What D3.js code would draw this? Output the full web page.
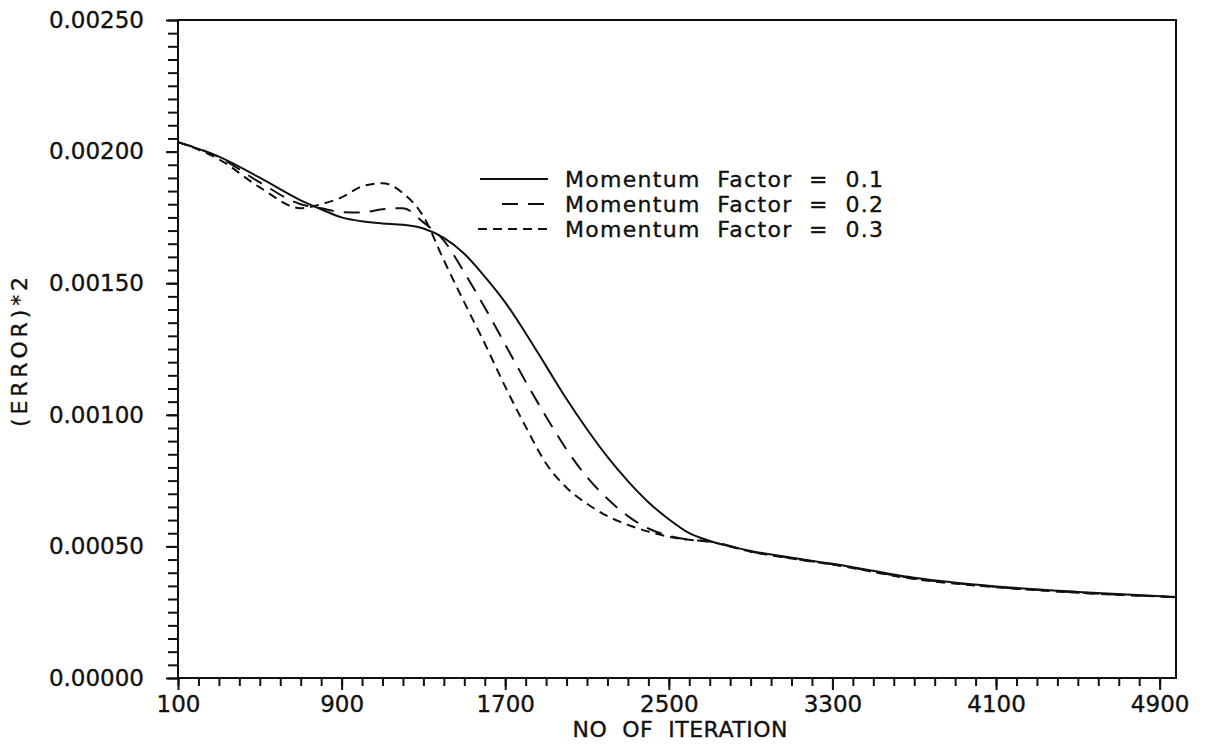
<!DOCTYPE html>
<html>
<head>
<meta charset="utf-8">
<script src="https://cdn.jsdelivr.net/npm/d3@7"></script>
<style>
  body { margin: 0; background: #fff; }
  svg { display: block; }
  text { font-family: "DejaVu Sans", sans-serif; fill: #111; stroke: #111; stroke-width: 0.35px; }
</style>
</head>
<body>
<svg width="1210" height="748"></svg>
<script>
const iterations = [100, 300, 500, 700, 800, 900, 1000, 1100, 1200, 1300, 1400, 1500, 1600, 1700, 1800, 1900, 2000,
                    2100, 2200, 2300, 2400, 2500, 2600, 2700, 2900, 3100, 3300, 3700, 4100, 4500, 4980];

// momentum factor 0.1 (solid)
const mf1 = [0.002036, 0.001981, 0.001901, 0.001815, 0.001781, 0.001750, 0.001735, 0.001727, 0.001722, 0.001708, 0.001672,
             0.001612, 0.001525, 0.001427, 0.001310, 0.001185, 0.001060, 0.000945, 0.000840, 0.000748, 0.000668,
             0.000603, 0.000550, 0.000521, 0.000483, 0.000457, 0.000434, 0.000381, 0.000348, 0.000327, 0.000308];
// momentum factor 0.2 (long dash)
const mf2 = [0.002036, 0.001979, 0.001883, 0.001800, 0.001785, 0.001770, 0.001769, 0.001781, 0.001785, 0.001731, 0.001662,
             0.001541, 0.001408, 0.001267, 0.001126, 0.000993, 0.000868, 0.000763, 0.000681, 0.000615, 0.000568,
             0.000540, 0.000525, 0.000519, 0.000481, 0.000455, 0.000432, 0.000378, 0.000346, 0.000325, 0.000307];
// momentum factor 0.3 (short dash)
const mf3 = [0.002036, 0.001971, 0.001864, 0.001785, 0.001800, 0.001826, 0.001868, 0.001880, 0.001842, 0.001754, 0.001587,
             0.001427, 0.001271, 0.001107, 0.000955, 0.000815, 0.000723, 0.000662, 0.000615, 0.000582, 0.000556,
             0.000537, 0.000525, 0.000517, 0.000480, 0.000454, 0.000431, 0.000376, 0.000345, 0.000324, 0.000307];

const xMajor = [100, 900, 1700, 2500, 3300, 4100, 4900];
const yMajor = [0, 0.0005, 0.001, 0.0015, 0.002, 0.0025];
const legendLabels = ["Momentum  Factor  =  0.1", "Momentum  Factor  =  0.2", "Momentum  Factor  =  0.3"];

const plotLeft = 178, plotRight = 1176, plotTop = 20, plotBottom = 678;

let svg = d3.select("svg");

let x = d3.scaleLinear().domain([100, 4980]).range([plotLeft, plotRight]);
let y = d3.scaleLinear().domain([0, 0.0025]).range([plotBottom, plotTop]);

const xMinor = d3.range(100, 4980, 100),
      yMinor = d3.range(0, 51).map(i => i * 0.00005);

// frame
svg.append("rect")
    .attr("x", plotLeft).attr("y", plotTop)
    .attr("width", plotRight - plotLeft).attr("height", plotBottom - plotTop)
    .attr("fill", "none").attr("stroke", "#111").attr("stroke-width", 2);

const styleAxis = (g) => {
  g.select(".domain").remove();
  g.selectAll(".tick line").attr("stroke", "#111").attr("stroke-width", 2);
};

// x minor + major ticks
svg.append("g")
    .attr("transform", `translate(0,${plotBottom})`)
    .call(d3.axisBottom(x).tickValues(xMinor).tickSize(8).tickFormat(""))
    .call(styleAxis);

svg.append("g")
    .attr("transform", `translate(0,${plotBottom})`)
    .call(d3.axisBottom(x).tickValues(xMajor).tickSize(12).tickPadding(6).tickFormat(d3.format("d")))
    .call(styleAxis)
    .call(g => g.selectAll(".tick text").attr("font-size", 23).attr("fill", "#111")
                .attr("font-family", "DejaVu Sans"));

// y minor + major ticks
svg.append("g")
    .attr("transform", `translate(${plotLeft},0)`)
    .call(d3.axisLeft(y).tickValues(yMinor).tickSize(10).tickFormat(""))
    .call(styleAxis);

svg.append("g")
    .attr("transform", `translate(${plotLeft},0)`)
    .call(d3.axisLeft(y).tickValues(yMajor).tickSize(12).tickPadding(22).tickFormat(d3.format(".5f")))
    .call(styleAxis)
    .call(g => g.selectAll(".tick text").attr("font-size", 23).attr("fill", "#111")
                .attr("font-family", "DejaVu Sans"));

// axis titles
svg.append("text")
    .attr("x", 680).attr("y", 737)
    .attr("text-anchor", "middle")
    .attr("font-size", 22)
    .attr("textLength", 215).attr("lengthAdjust", "spacing")
    .style("white-space", "pre")
    .text("NO  OF  ITERATION");

svg.append("text")
    .attr("transform", "translate(27,352) rotate(-90)")
    .attr("text-anchor", "middle")
    .attr("font-size", 22)
    .attr("textLength", 150).attr("lengthAdjust", "spacing")
    .text("(ERROR)*2");

// curves
const series = [
  { values: mf1, dash: null },
  { values: mf2, dash: "16,10" },
  { values: mf3, dash: "9,6" }
];

const line = d3.line()
    .x(d => x(d[0]))
    .y(d => y(d[1]))
    .curve(d3.curveMonotoneX);

series.forEach(s => {
  svg.append("path")
      .datum(iterations.map((it, i) => [it, s.values[i]]))
      .attr("d", line)
      .attr("fill", "none")
      .attr("stroke", "#111")
      .attr("stroke-width", 2)
      .attr("stroke-dasharray", s.dash);
});

// legend
let legend = svg.append("g");
const legendLines = [[480, 548], [502, 548], [478, 548]];

legendLabels.forEach((label, i) => {
  let yy = 179 + i * 25;
  legend.append("line")
      .attr("x1", legendLines[i][0]).attr("x2", legendLines[i][1])
      .attr("y1", yy).attr("y2", yy)
      .attr("stroke", "#111").attr("stroke-width", 2)
      .attr("stroke-dasharray", series[i].dash);
  legend.append("text")
      .attr("x", 565).attr("y", yy + 8)
      .attr("font-size", 22)
      .attr("textLength", 318).attr("lengthAdjust", "spacing")
      .style("white-space", "pre")
      .text(label);
});
</script>
</body>
</html>
